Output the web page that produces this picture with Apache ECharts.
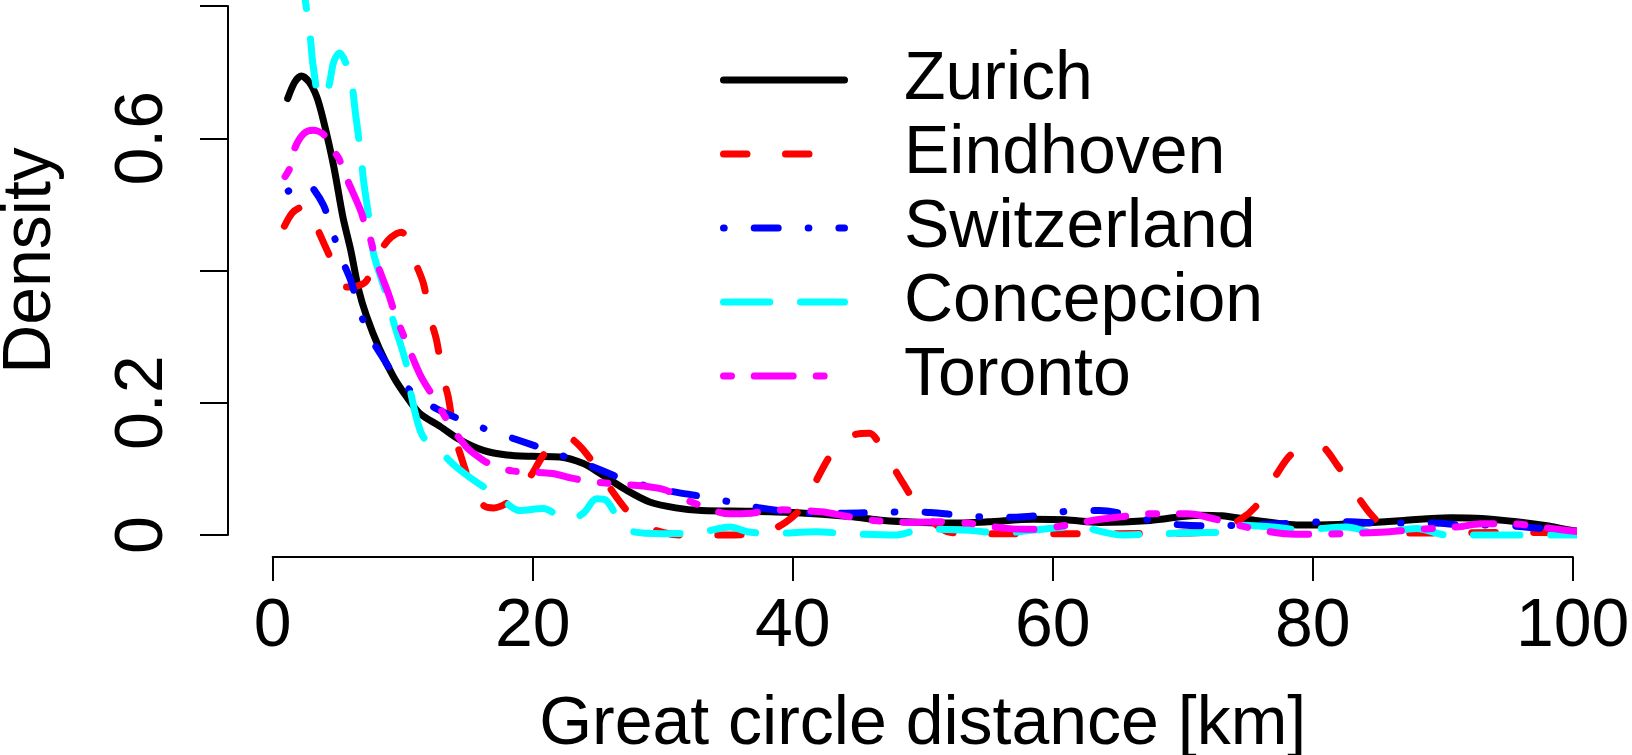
<!DOCTYPE html>
<html>
<head>
<meta charset="utf-8">
<script src="https://cdn.jsdelivr.net/npm/echarts@6/dist/echarts.min.js"></script>
<style>
  html, body { margin: 0; padding: 0; background: #ffffff; }
  #chart { width: 1632px; height: 755px; }
</style>
</head>
<body>
<div id="chart"></div>
<script>
// ---------- data (x = km, y = density) ----------
const seriesNames = ['Zurich', 'Eindhoven', 'Switzerland', 'Concepcion', 'Toronto'];
const seriesColors = ['#000000', '#ff0000', '#0000ff', '#00ffff', '#ff00ff'];

const xTickLabels = ['0', '20', '40', '60', '80', '100'];
const yTickLabels = ['0', '0.2', '', '0.6', ''];

const zurich = [
  [1.15, 0.660], [1.7, 0.685], [2.2, 0.694], [2.8, 0.685], [3.4, 0.662], [3.9, 0.627],
  [4.7, 0.557], [5.4, 0.481], [6.0, 0.431], [6.6, 0.372], [7.2, 0.332], [8.2, 0.282],
  [9.3, 0.239], [10.3, 0.209], [11.3, 0.184], [12.9, 0.164], [14.4, 0.144], [16.2, 0.128],
  [18.0, 0.121], [20.0, 0.119], [22.1, 0.118], [23.9, 0.108], [25.2, 0.093], [27.2, 0.068],
  [29.0, 0.050], [31.0, 0.041], [33.0, 0.037], [36.7, 0.036], [40.0, 0.034], [44.4, 0.028],
  [47.0, 0.022], [50.0, 0.019], [52.0, 0.018], [55.0, 0.020], [58.5, 0.024], [61.0, 0.023],
  [63.6, 0.019], [67.5, 0.022], [71.3, 0.030], [73.0, 0.029], [75.2, 0.023], [79.0, 0.015],
  [82.0, 0.016], [84.1, 0.018], [87.0, 0.022], [90.6, 0.026], [93.0, 0.025], [95.7, 0.020],
  [98.0, 0.014], [99.6, 0.008], [101.5, 0.003], [103.5, 0.000]
];

const eindhoven = [
  [0.9, 0.467], [1.5, 0.487], [2.1, 0.495], [2.7, 0.497], [3.6, 0.456], [4.4, 0.421],
  [5.0, 0.395], [5.6, 0.375], [6.4, 0.376], [7.2, 0.384], [8.4, 0.433], [9.1, 0.450],
  [9.9, 0.458], [10.5, 0.440], [11.0, 0.411], [11.6, 0.380], [12.1, 0.330], [12.6, 0.295],
  [13.1, 0.239], [13.5, 0.209], [14.0, 0.149], [14.4, 0.124], [15.2, 0.078], [16.2, 0.045],
  [17.0, 0.041], [18.0, 0.048], [18.7, 0.060], [19.8, 0.088], [21.1, 0.128], [22.6, 0.149],
  [23.6, 0.135], [24.7, 0.108], [25.7, 0.078], [27.2, 0.038], [28.5, 0.015], [30.0, 0.004],
  [31.3, 0.000], [35.0, 0.000], [38.0, 0.005], [39.5, 0.020], [40.6, 0.040], [42.6, 0.111],
  [43.5, 0.139], [44.8, 0.152], [45.9, 0.154], [47.0, 0.126], [48.5, 0.078], [49.3, 0.053],
  [50.5, 0.025], [52.1, 0.004], [55.0, 0.002], [60.0, 0.002], [65.0, 0.002], [70.0, 0.003],
  [72.5, 0.006], [74.4, 0.023], [75.7, 0.045], [77.2, 0.091], [78.3, 0.121], [79.5, 0.132],
  [80.6, 0.134], [81.8, 0.108], [83.4, 0.060], [84.4, 0.033], [85.5, 0.012], [87.0, 0.003],
  [90.0, 0.003], [95.0, 0.004], [100.0, 0.003], [103.5, 0.000]
];

const switzerland = [
  [1.2, 0.520], [1.8, 0.528], [2.4, 0.533], [2.9, 0.529], [3.9, 0.499], [4.6, 0.459],
  [5.3, 0.418], [6.0, 0.385], [6.6, 0.345], [7.35, 0.305], [8.25, 0.275], [9.5, 0.239],
  [11.2, 0.209], [12.7, 0.190], [14.9, 0.171], [17.0, 0.156], [18.8, 0.144], [20.9, 0.130],
  [23.1, 0.114], [24.9, 0.101], [27.0, 0.084], [29.2, 0.072], [31.2, 0.064], [33.4, 0.057],
  [35.7, 0.048], [37.5, 0.041], [39.8, 0.035], [42.1, 0.033], [44.0, 0.033], [46.4, 0.034],
  [48.8, 0.035], [50.6, 0.034], [52.9, 0.030], [55.2, 0.027], [57.2, 0.027], [59.5, 0.031],
  [61.7, 0.037], [63.6, 0.037], [65.9, 0.030], [68.0, 0.020], [70.0, 0.015], [72.3, 0.014],
  [75.0, 0.015], [78.7, 0.018], [80.9, 0.020], [82.9, 0.020], [85.2, 0.018], [87.4, 0.018],
  [89.4, 0.018], [91.6, 0.015], [93.9, 0.015], [95.9, 0.013], [98.0, 0.009], [100.0, 0.005],
  [102.0, 0.0025], [103.5, 0.000]
];

const concepcion = [
  [1.0, 0.980], [1.8, 0.890], [2.5, 0.809], [2.9, 0.751], [3.1, 0.711], [3.6, 0.662],
  [3.9, 0.662], [4.3, 0.677], [4.7, 0.716], [5.15, 0.729], [5.6, 0.715], [6.1, 0.680],
  [6.35, 0.640], [6.8, 0.572], [7.0, 0.534], [7.5, 0.466], [7.75, 0.426], [8.8, 0.360],
  [9.3, 0.322], [10.3, 0.257], [10.6, 0.217], [11.5, 0.151], [12.9, 0.126], [14.0, 0.105],
  [15.6, 0.081], [17.4, 0.058], [19.0, 0.037], [20.8, 0.040], [22.7, 0.023], [23.9, 0.033],
  [24.9, 0.055], [25.6, 0.053], [26.8, 0.018], [27.7, 0.005], [30.0, 0.002], [32.6, 0.003],
  [35.2, 0.012], [36.5, 0.005], [38.3, 0.002], [41.8, 0.005], [44.2, 0.002], [48.0, 0.000],
  [50.0, 0.009], [53.6, 0.007], [55.9, 0.003], [59.8, 0.010], [61.8, 0.012], [65.4, 0.000],
  [67.7, 0.0015], [71.3, 0.0035], [73.4, 0.005], [74.4, 0.015], [77.0, 0.012], [79.0, 0.008],
  [82.6, 0.012], [84.9, 0.003], [88.0, 0.010], [90.3, 0.000], [100.0, 0.000], [103.5, 0.000]
];

const toronto = [
  [0.95, 0.542], [1.3, 0.554], [1.7, 0.585], [2.4, 0.607], [3.1, 0.612], [3.9, 0.606],
  [4.8, 0.578], [5.1, 0.569], [5.7, 0.539], [6.8, 0.489], [7.2, 0.461], [7.5, 0.449],
  [7.9, 0.418], [8.9, 0.365], [9.4, 0.335], [10.2, 0.295], [11.3, 0.244], [12.1, 0.217],
  [12.5, 0.207], [13.25, 0.179], [14.9, 0.133], [16.2, 0.113], [16.9, 0.106], [18.4, 0.097],
  [21.5, 0.093], [23.0, 0.086], [23.8, 0.083], [25.4, 0.079], [28.5, 0.074], [30.2, 0.068],
  [32.2, 0.050], [35.2, 0.032], [36.8, 0.033], [37.5, 0.035], [39.2, 0.038], [42.2, 0.035],
  [44.2, 0.028], [46.2, 0.022], [49.3, 0.019], [51.2, 0.020], [53.4, 0.018], [56.5, 0.010],
  [58.4, 0.0086], [60.4, 0.0126], [63.4, 0.023], [65.5, 0.028], [67.3, 0.032], [70.4, 0.032],
  [72.3, 0.025], [74.2, 0.015], [77.2, 0.0035], [79.3, 0.001], [81.2, 0.0015], [84.3, 0.0035],
  [85.9, 0.005], [88.1, 0.0086], [91.3, 0.0126], [92.9, 0.017], [95.2, 0.017], [98.3, 0.010],
  [99.8, 0.0065], [102.0, 0.0025], [103.5, 0.000]
];

const seriesValues = [zurich, eindhoven, switzerland, concepcion, toronto];

// ---------- styling ----------
const FONT = "'Liberation Sans', Arial, Helvetica, sans-serif";
const FS = 68;
const LH = 66;
const LW = 7;
// R line types (solid, dashed, dotdash, longdash, twodash), drawn with round caps
const dashPatterns = ['solid', [23.5, 38.5], [0.7, 30, 24, 30], [46.3, 30.7], [8, 22.7, 39, 23]];

const chart = echarts.init(document.getElementById('chart'), null, { renderer: 'canvas' });

chart.setOption({
  backgroundColor: '#ffffff',
  animation: false,
  grid: {
    left: 272.7, right: 59.3, top: 6, bottom: 220,
    containLabel: false, outerBoundsMode: 'none', show: false
  },
  xAxis: {
    type: 'value', min: 0, max: 100, interval: 20,
    offset: 21.7,
    splitLine: { show: false },
    axisLine: { show: true, onZero: false, lineStyle: { color: '#000', width: 2 } },
    axisTick: { show: true, length: 24.3, lineStyle: { color: '#000', width: 2 } },
    axisLabel: {
      show: true, margin: 37.8, color: '#000', fontFamily: FONT, fontSize: FS, lineHeight: LH,
      showMinLabel: true, showMaxLabel: true,
      formatter: (v, i) => xTickLabels[i] !== undefined ? xTickLabels[i] : ''
    },
    name: 'Great circle distance [km]',
    nameLocation: 'middle', nameGap: 135.2,
    nameTextStyle: { color: '#000', fontFamily: FONT, fontSize: FS, lineHeight: LH }
  },
  yAxis: {
    type: 'value', min: 0, max: 0.8, interval: 0.2,
    offset: 45,
    splitLine: { show: false },
    axisLine: { show: true, onZero: false, lineStyle: { color: '#000', width: 2 } },
    axisTick: { show: true, length: 27.7, lineStyle: { color: '#000', width: 2 } },
    axisLabel: {
      show: true, rotate: 90, margin: 51.4, color: '#000', fontFamily: FONT, fontSize: FS, lineHeight: LH,
      showMinLabel: true, showMaxLabel: true,
      formatter: (v, i) => yTickLabels[i] !== undefined ? yTickLabels[i] : ''
    },
    name: 'Density',
    nameLocation: 'middle', nameGap: 163.4, nameRotate: 90,
    nameTextStyle: { color: '#000', fontFamily: FONT, fontSize: FS, lineHeight: LH, padding: [0, 0, 0, 20] }
  },
  legend: {
    orient: 'vertical',
    left: 720, top: 43.7,
    padding: 0,
    itemWidth: 121, itemHeight: 14, itemGap: 1.4,
    selectedMode: false,
    itemStyle: { opacity: 0 },
    lineStyle: { width: LW },
    textStyle: { color: '#000', fontFamily: FONT, fontSize: FS, lineHeight: LH, padding: [6.6, 0, 0, 54.5] },
    data: seriesNames
  },
  series: seriesNames.map((name, i) => ({
    name: name,
    type: 'line',
    data: seriesValues[i],
    symbol: 'none',
    showSymbol: false,
    clip: false,
    smooth: 0.3,
    silent: true,
    emphasis: { disabled: true },
    lineStyle: { color: seriesColors[i], width: LW, type: dashPatterns[i], cap: 'round', join: 'round' },
    itemStyle: { color: seriesColors[i] },
    z: 2 + i
  }))
});
</script>
</body>
</html>
